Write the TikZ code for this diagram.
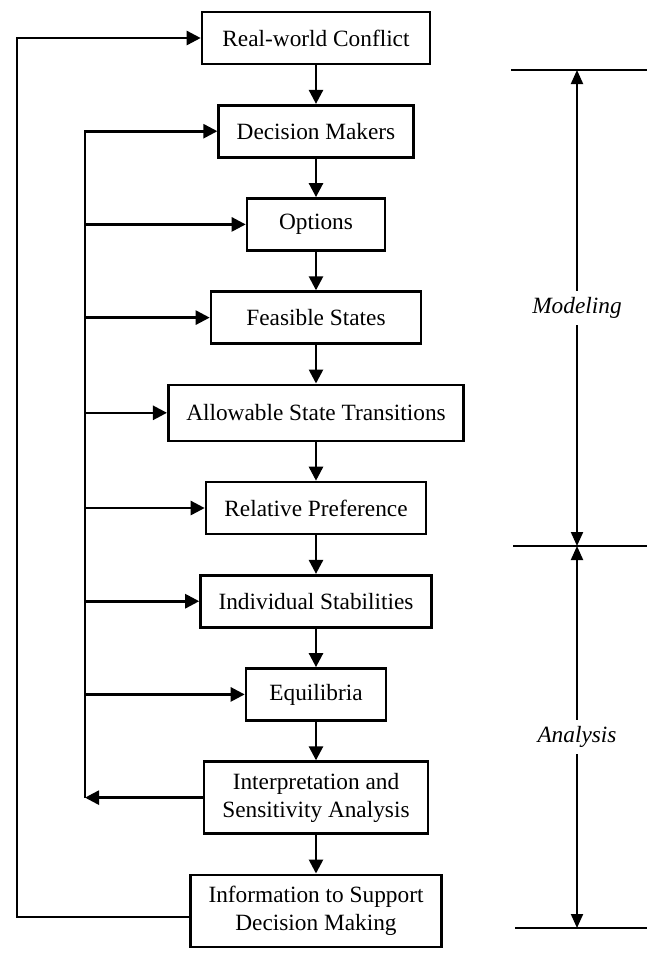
\documentclass[tikz,border=0pt]{standalone}
\usepackage{fontspec}
\setmainfont{Liberation Serif}
\usetikzlibrary{positioning, arrows.meta}

\begin{document}
\begin{tikzpicture}[
        x=0.5bp, y=-0.5bp,
        node distance=19.3bp,
        box/.style={rectangle, draw, line width=1.3bp, minimum height=26bp, inner xsep=9bp, align=center, font=\fontsize{11.7}{14}\selectfont},
        arrow/.style={-{Triangle[length=7bp, width=7bp]}, line width=1.3bp},
        dimarrow/.style={{Triangle[length=7bp, width=6bp]}-{Triangle[length=7bp, width=6bp]}, line width=1bp},
        rule/.style={line width=1.3bp},
        phase/.style={midway, fill=white, inner sep=3bp, font=\fontsize{11.7}{14}\selectfont\itshape}
    ]
    \useasboundingbox (0,0) rectangle (652,953);
%
    % Nodes
    \node[box, minimum width=114bp] (conflict) at (316,38) {Real-world Conflict};
    \node[box, minimum width=97bp, below=of conflict] (makers) {Decision Makers};
    \node[box, minimum width=69bp, below=of makers] (options) {Options};
    \node[box, minimum width=105bp, below=of options] (feasible) {Feasible States};
    \node[box, minimum width=142bp, minimum height=28bp, below=of feasible] (allowable) {Allowable State Transitions};
    \node[box, minimum width=110bp, below=of allowable] (preference) {Relative Preference};
    \node[box, minimum width=110bp, below=of preference] (stabilities) {Individual Stabilities};
    \node[box, minimum width=70bp, below=of stabilities] (equilibria) {Equilibria};
    \node[box, minimum width=112bp, minimum height=36bp, below=of equilibria] (interp) {Interpretation and\\Sensitivity Analysis};
    \node[box, minimum width=118bp, minimum height=36bp, below=of interp] (info) {Information to Support\\Decision Making};
%
    % Loop lines and phase marks
    \coordinate (outer) at (17,0);
    \coordinate (inner) at (85,0);
    \coordinate (mtop) at (577,70);
    \coordinate (mmid) at (577,546);
    \coordinate (mbot) at (577,928);
%
    % Arrows
    \draw[arrow] (conflict) -- (makers);
    \draw[arrow] (makers) -- (options);
    \draw[arrow] (options) -- (feasible);
    \draw[arrow] (feasible) -- (allowable);
    \draw[arrow] (allowable) -- (preference);
    \draw[arrow] (preference) -- (stabilities);
    \draw[arrow] (stabilities) -- (equilibria);
    \draw[arrow] (equilibria) -- (interp);
    \draw[arrow] (interp) -- (info);
    \draw[arrow] ([yshift=-3bp]info.west) -- ([yshift=-3bp]info.west -| outer) |- (conflict.west);
    \draw[arrow] (interp.west) -- (interp.west -| inner);
    \draw[arrow] (interp.west -| inner) |- (makers.west);
    \foreach \n in {options, feasible, allowable, preference, stabilities, equilibria}
        \draw[arrow] (\n.west -| inner) -- (\n.west);
%
    \draw[rule] ([xshift=-33bp]mtop) -- ([xshift=35bp]mtop);
    \draw[rule] ([xshift=-32bp]mmid) -- ([xshift=35bp]mmid);
    \draw[rule] ([xshift=-31bp]mbot) -- ([xshift=35bp]mbot);
    \draw[dimarrow] (mtop) -- (mmid) node[phase] {Modeling};
    \draw[dimarrow] (mmid) -- (mbot) node[phase] {Analysis};
%
\end{tikzpicture}
\end{document}
